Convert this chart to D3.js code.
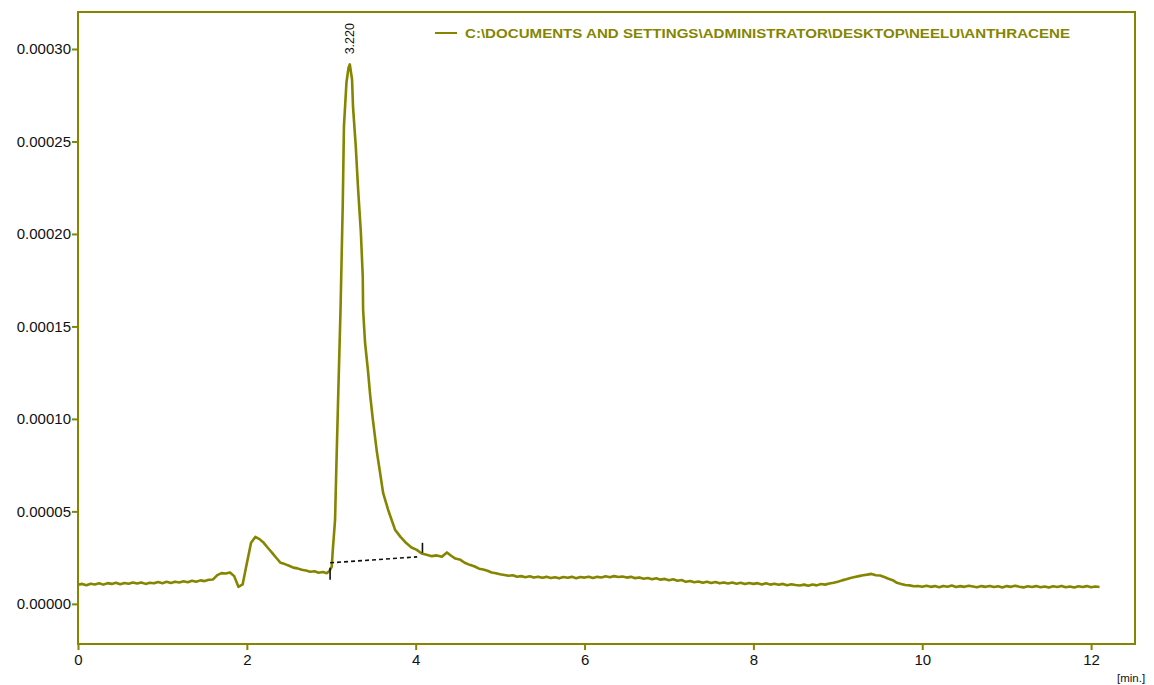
<!DOCTYPE html>
<html>
<head>
<meta charset="utf-8">
<script src="https://cdn.jsdelivr.net/npm/d3@7"></script>
<style>
  body { margin: 0; background: #fff; }
  svg { display: block; font-family: "Liberation Sans", Arial, sans-serif; }
</style>
</head>
<body>
<svg id="chart" width="1154" height="685"></svg>
<script>
// chromatogram trace, retention time [min] and signal (in units of 1e-5)
var retTime = [
  0.00, 0.05, 0.10, 0.15, 0.20, 0.25, 0.30, 0.35, 0.40, 0.45, 0.50, 0.55, 0.60, 0.65, 0.70, 0.75,
  0.80, 0.85, 0.90, 0.95, 1.00, 1.05, 1.10, 1.15, 1.20, 1.25, 1.30, 1.35, 1.40, 1.45, 1.50, 1.55,
  1.60, 1.65, 1.70, 1.75, 1.80, 1.85, 1.90, 1.95, 2.00, 2.05, 2.10, 2.15, 2.20, 2.25, 2.30, 2.35,
  2.40, 2.45, 2.50, 2.55, 2.60, 2.65, 2.70, 2.75, 2.80, 2.85, 2.90, 2.95, 2.98,
  3.005, 3.02, 3.045, 3.057, 3.08, 3.11, 3.136, 3.15, 3.18, 3.205, 3.22, 3.246, 3.258, 3.29, 3.318,
  3.35, 3.373, 3.377, 3.40, 3.436, 3.46, 3.49, 3.54, 3.578, 3.614, 3.673, 3.756, 3.82, 3.874, 3.95,
  4.013, 4.07, 4.13, 4.19, 4.25, 4.31, 4.37, 4.42, 4.47, 4.53, 4.58, 4.64, 4.70, 4.75, 4.80, 4.85,
  4.90, 4.95, 5.00, 5.05, 5.10, 5.15, 5.20, 5.25, 5.30, 5.35, 5.40, 5.45, 5.50, 5.55, 5.60, 5.65,
  5.70, 5.75, 5.80, 5.85, 5.90, 5.95, 6.00, 6.05, 6.10, 6.15, 6.20, 6.25, 6.30, 6.35, 6.40, 6.45,
  6.50, 6.55, 6.60, 6.65, 6.70, 6.75, 6.80, 6.85, 6.90, 6.95, 7.00, 7.05, 7.10, 7.15, 7.20, 7.25,
  7.30, 7.35, 7.40, 7.45, 7.50, 7.55, 7.60, 7.65, 7.70, 7.75, 7.80, 7.85, 7.90, 7.95, 8.00, 8.05,
  8.10, 8.15, 8.20, 8.25, 8.30, 8.35, 8.40, 8.45, 8.50, 8.55, 8.60, 8.65, 8.70, 8.75, 8.80, 8.85,
  8.90, 8.95, 9.00, 9.05, 9.10, 9.15, 9.20, 9.25, 9.30, 9.35, 9.40, 9.45, 9.50, 9.55, 9.60, 9.65,
  9.70, 9.75, 9.80, 9.85, 9.90, 9.95, 10.00, 10.05, 10.10, 10.15, 10.20, 10.25, 10.30, 10.35, 10.40,
  10.45, 10.50, 10.55, 10.60, 10.65, 10.70, 10.75, 10.80, 10.85, 10.90, 10.95, 11.00, 11.05, 11.10,
  11.15, 11.20, 11.25, 11.30, 11.35, 11.40, 11.45, 11.50, 11.55, 11.60, 11.65, 11.70, 11.75, 11.80,
  11.85, 11.90, 11.95, 12.00, 12.05, 12.10, 12.15
];
var signal = [
  1.03, 1.08, 1.01, 1.09, 1.05, 1.11, 1.04, 1.12, 1.08, 1.14, 1.06, 1.13, 1.09, 1.15, 1.10, 1.16,
  1.08, 1.14, 1.11, 1.18, 1.12, 1.19, 1.13, 1.20, 1.16, 1.22, 1.17, 1.25, 1.20, 1.27, 1.23, 1.30,
  1.32, 1.55, 1.66, 1.64, 1.70, 1.50, 0.92, 1.05, 2.20, 3.30, 3.62, 3.50, 3.30, 3.02, 2.76, 2.48,
  2.22, 2.15, 2.06, 1.96, 1.92, 1.84, 1.80, 1.74, 1.76, 1.68, 1.72, 1.66, 1.80,
  2.00, 3.03, 4.55, 6.82, 10.88, 16.0, 21.6, 25.8, 28.2, 29.0, 29.17, 28.35, 26.84, 24.73, 22.4,
  20.13, 17.69, 15.9, 14.12, 12.55, 11.31, 10.06, 8.22, 7.09, 6.0, 5.09, 4.0, 3.62, 3.35, 3.05,
  2.92, 2.72, 2.65, 2.58, 2.62, 2.55, 2.78, 2.60, 2.45, 2.38, 2.22, 2.11, 2.02, 1.90, 1.86, 1.79,
  1.70, 1.66, 1.60, 1.56, 1.52, 1.55, 1.47, 1.50, 1.44, 1.49, 1.42, 1.47, 1.41, 1.46, 1.40, 1.44,
  1.38, 1.45, 1.41, 1.46, 1.39, 1.45, 1.42, 1.47, 1.40, 1.46, 1.43, 1.49, 1.44, 1.50, 1.45, 1.48,
  1.42, 1.46, 1.39, 1.43, 1.36, 1.40, 1.33, 1.38, 1.31, 1.35, 1.28, 1.33, 1.25, 1.29, 1.19, 1.24,
  1.17, 1.21, 1.14, 1.20, 1.13, 1.18, 1.11, 1.16, 1.10, 1.15, 1.09, 1.14, 1.07, 1.13, 1.08, 1.12,
  1.05, 1.11, 1.04, 1.09, 1.03, 1.08, 1.01, 1.06, 1.02, 0.99, 1.04, 0.98, 1.05, 1.00, 1.07, 1.04,
  1.10, 1.14, 1.20, 1.27, 1.33, 1.40, 1.45, 1.50, 1.55, 1.58, 1.62, 1.55, 1.53, 1.45, 1.36, 1.28,
  1.14, 1.08, 1.02, 1.00, 0.95, 0.97, 0.93, 0.98, 0.92, 0.96, 0.90, 0.97, 0.93, 0.99, 0.91,
  0.96, 0.92, 0.98, 0.94, 0.90, 0.96, 0.92, 0.97, 0.91, 0.95, 0.89, 0.96, 0.92, 0.98,
  0.93, 0.89, 0.95, 0.91, 0.96, 0.90, 0.94, 0.88, 0.95, 0.91, 0.97, 0.90, 0.94,
  0.89, 0.95, 0.91, 0.96, 0.90, 0.94, 0.91
];

var yTicks = [0, 0.00005, 0.0001, 0.00015, 0.0002, 0.00025, 0.0003];
var xTicks = [0, 2, 4, 6, 8, 10, 12];

// integration of the main peak
var peakLabel = "3.220";
var peakTime = 3.22;
var baselineTime = [2.986, 4.017];
var baselineSignal = [2.22, 2.54];
var markerTime = [2.986, 4.08];
var markerLow = [1.30, 2.76];
var markerHigh = [1.95, 3.30];

var legendText = "C:\\DOCUMENTS AND SETTINGS\\ADMINISTRATOR\\DESKTOP\\NEELU\\ANTHRACENE";

var OLIVE = "#858500";
var UNIT = 1e-5;

var margin = {top: 12, right: 19, bottom: 41, left: 78};
var width = 1154 - margin.left - margin.right;
var height = 685 - margin.top - margin.bottom;

var svg = d3.select("#chart");
var g = svg.append("g").attr("transform", "translate(" + margin.left + "," + margin.top + ")");

var x = d3.scaleLinear().domain([0, 12.52]).range([0, width]);
var y = d3.scaleLinear().domain([-0.0000217, 0.000320]).range([height, 0]);

var points = retTime.map(function (t, i) { return [t, signal[i] * UNIT]; });

// frame
g.append("rect")
    .attr("width", width)
    .attr("height", height)
    .attr("fill", "none")
    .attr("stroke", OLIVE)
    .attr("stroke-width", 2);

var yAxis = g.append("g")
    .call(d3.axisLeft(y).tickValues(yTicks).tickFormat(d3.format(".5f")).tickSize(6).tickPadding(1));
var xAxis = g.append("g")
    .attr("transform", "translate(0," + height + ")")
    .call(d3.axisBottom(x).tickValues(xTicks).tickFormat(d3.format("d")).tickSize(6).tickPadding(4));

[yAxis, xAxis].forEach(function (a) {
    a.select(".domain").remove();
    a.selectAll(".tick line").attr("stroke", OLIVE).attr("stroke-width", 2);
    a.selectAll(".tick text")
        .attr("fill", "#111")
        .style("font-size", "15px")
        .style("font-family", "'Liberation Sans', Arial, sans-serif");
});

svg.append("text")
    .attr("x", 1117)
    .attr("y", 682)
    .attr("fill", "#111")
    .style("font-size", "11.5px")
    .text("[min.]");

// trace
var line = d3.line()
    .x(function (d) { return x(d[0]); })
    .y(function (d) { return y(d[1]); });

g.append("path")
    .datum(points)
    .attr("fill", "none")
    .attr("stroke", OLIVE)
    .attr("stroke-width", 2.6)
    .attr("stroke-linejoin", "round")
    .attr("d", line);

// baseline of integrated peak
g.append("line")
    .attr("x1", x(baselineTime[0]))
    .attr("y1", y(baselineSignal[0] * UNIT))
    .attr("x2", x(baselineTime[1]))
    .attr("y2", y(baselineSignal[1] * UNIT))
    .attr("stroke", "#111")
    .attr("stroke-width", 1.6)
    .attr("stroke-dasharray", "4,3");

g.selectAll(".marker")
    .data(markerTime)
    .enter().append("line")
    .attr("class", "marker")
    .attr("x1", function (d) { return x(d); })
    .attr("x2", function (d) { return x(d); })
    .attr("y1", function (d, i) { return y(markerLow[i] * UNIT); })
    .attr("y2", function (d, i) { return y(markerHigh[i] * UNIT); })
    .attr("stroke", "#111")
    .attr("stroke-width", 1.6);

// peak label
var peakIndex = retTime.indexOf(peakTime);
var px = x(peakTime) + 4;
var py = y(signal[peakIndex] * UNIT) - 10;
g.append("text")
    .attr("transform", "translate(" + px + "," + py + ") rotate(-90)")
    .attr("fill", "#111")
    .style("font-size", "12.5px")
    .text(peakLabel);

// legend
svg.append("line")
    .attr("x1", 435).attr("x2", 457)
    .attr("y1", 33).attr("y2", 33)
    .attr("stroke", OLIVE)
    .attr("stroke-width", 2);
svg.append("text")
    .attr("x", 465)
    .attr("y", 38)
    .attr("fill", OLIVE)
    .attr("textLength", 605)
    .attr("lengthAdjust", "spacingAndGlyphs")
    .style("font-size", "13.5px")
    .style("font-weight", "bold")
    .text(legendText);
</script>
</body>
</html>
